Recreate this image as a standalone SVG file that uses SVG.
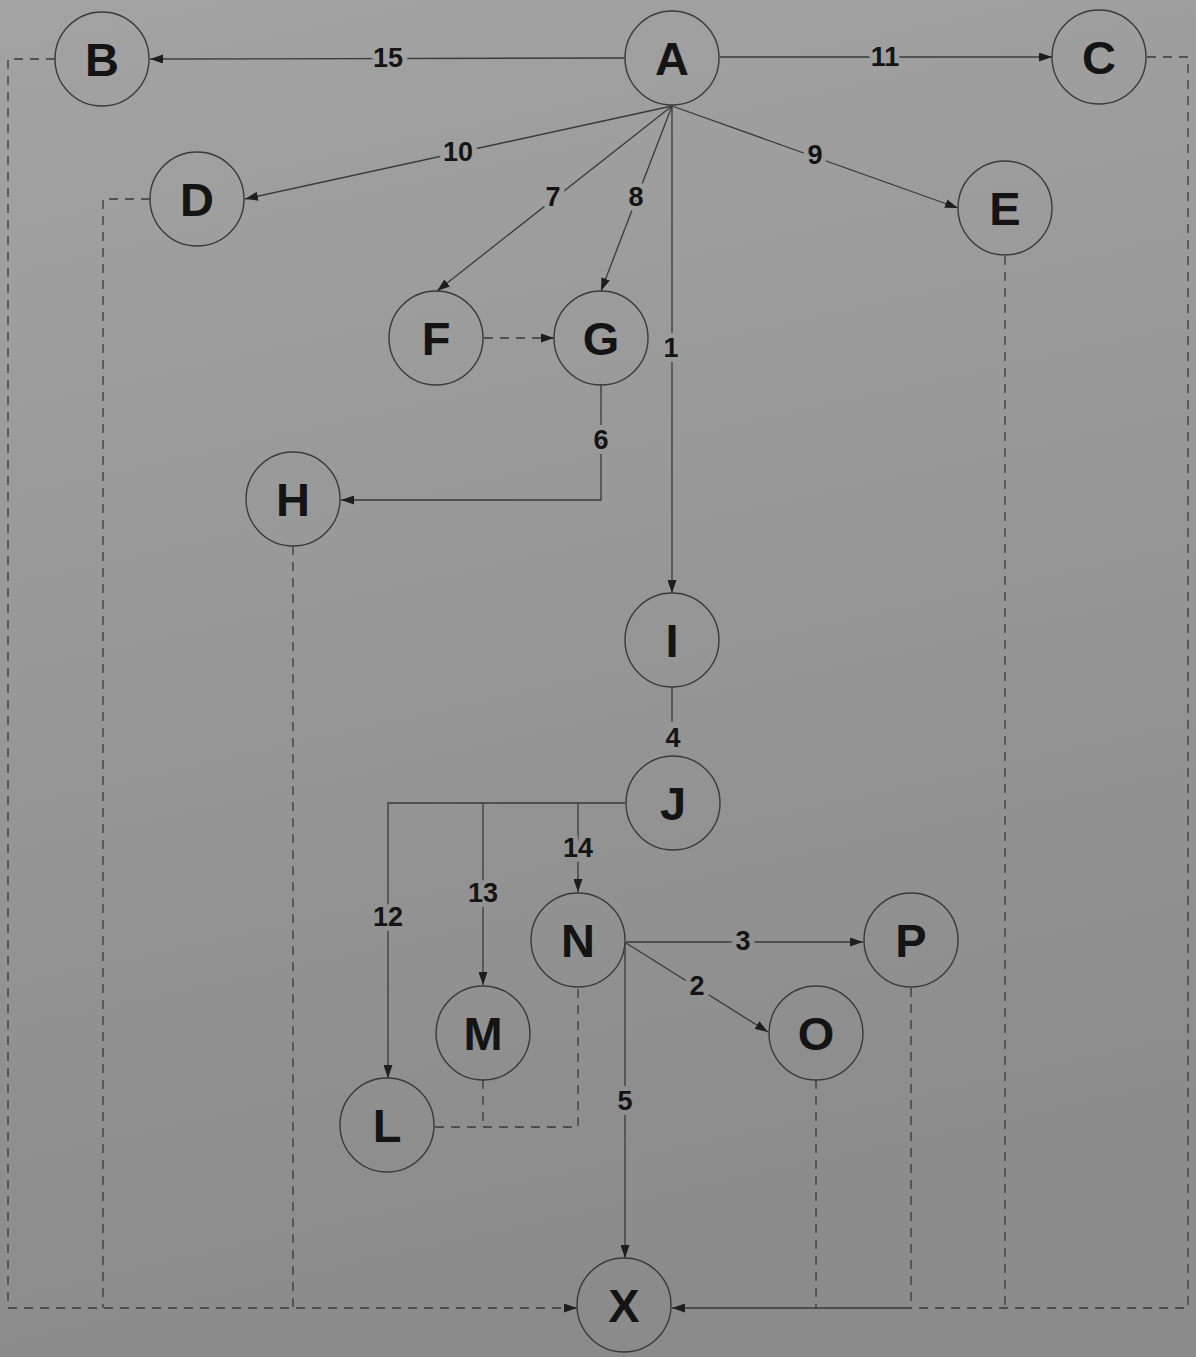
<svg xmlns="http://www.w3.org/2000/svg" width="1196" height="1357" viewBox="0 0 1196 1357">
<defs>
<linearGradient id="bg" gradientUnits="userSpaceOnUse" x1="0" y1="0" x2="300" y2="1357">
<stop offset="0" stop-color="#a3a3a3"/>
<stop offset="1" stop-color="#8b8b8b"/>
</linearGradient>
<marker id="ah" viewBox="0 0 13 9" refX="13" refY="4.5" markerWidth="13" markerHeight="9" markerUnits="userSpaceOnUse" orient="auto">
<path d="M0,0 L13,4.5 L0,9 z" fill="#1e1e1e"/>
</marker>
<style>
.n circle{fill:none;stroke:#3a3a3a;stroke-width:1.4}
.n text{font-family:"Liberation Sans",Arial,sans-serif;font-weight:bold;font-size:47px;fill:#141414;text-anchor:middle;dominant-baseline:central}
.e{fill:none;stroke:#3a3a3a;stroke-width:1.3}
.d{fill:none;stroke:#3a3a3a;stroke-width:1.3;stroke-dasharray:9 7}
.a{marker-end:url(#ah)}
.lb{font-family:"Liberation Sans",Arial,sans-serif;font-weight:bold;font-size:27px;fill:#141414;text-anchor:middle;dominant-baseline:central;stroke:url(#bg);stroke-width:10;paint-order:stroke;stroke-linejoin:round}
</style>
</defs>
<rect width="1196" height="1357" fill="url(#bg)"/>
<g id="connectors">
<line class="e a" x1="625" y1="58" x2="150" y2="59"/>
<line class="e a" x1="720" y1="57" x2="1052" y2="57"/>
<line class="e a" x1="672" y1="106" x2="245" y2="199"/>
<line class="e a" x1="672" y1="106" x2="437" y2="291"/>
<line class="e a" x1="672" y1="106" x2="601" y2="291"/>
<line class="e a" x1="672" y1="106" x2="672" y2="593"/>
<line class="e a" x1="672" y1="106" x2="958" y2="208"/>
<line class="d a" x1="484" y1="338" x2="554" y2="338"/>
<polyline class="e a" points="601,384 601,500 341,500"/>
<line class="e" x1="672" y1="687" x2="672" y2="722"/>
<polyline class="e" points="625,803 388,803 388,1000"/>
<line class="e a" x1="388" y1="1000" x2="388" y2="1078"/>
<line class="e a" x1="483" y1="803" x2="483" y2="985"/>
<line class="e a" x1="578" y1="803" x2="578" y2="892"/>
<line class="e a" x1="626" y1="942" x2="863" y2="942"/>
<line class="e a" x1="626" y1="943" x2="768" y2="1032"/>
<line class="e a" x1="625" y1="943" x2="625" y2="1258"/>
<polyline class="d" points="435,1127 578,1127 578,988"/>
<line class="d" x1="483" y1="1080" x2="483" y2="1127"/>
<polyline class="d" points="55,59 8,59 8,1308"/>
<polyline class="d" points="150,199 103,199 103,1308"/>
<line class="d" x1="293" y1="546" x2="293" y2="1308"/>
<line class="d a" x1="8" y1="1308" x2="577" y2="1308"/>
<polyline class="d" points="1147,57 1188,57 1188,1308 910,1308"/>
<line class="d" x1="1005" y1="256" x2="1005" y2="1308"/>
<line class="d" x1="911" y1="988" x2="911" y2="1308"/>
<line class="d" x1="816" y1="1080" x2="816" y2="1308"/>
<line class="e a" x1="910" y1="1308" x2="672" y2="1308"/>
<text class="lb" x="388" y="58">15</text>
<text class="lb" x="885" y="57">11</text>
<text class="lb" x="458" y="152">10</text>
<text class="lb" x="553" y="197">7</text>
<text class="lb" x="636" y="197">8</text>
<text class="lb" x="815" y="155">9</text>
<text class="lb" x="671" y="348">1</text>
<text class="lb" x="601" y="440">6</text>
<text class="lb" x="673" y="738">4</text>
<text class="lb" x="578" y="848">14</text>
<text class="lb" x="483" y="893">13</text>
<text class="lb" x="388" y="917">12</text>
<text class="lb" x="743" y="941">3</text>
<text class="lb" x="697" y="986">2</text>
<text class="lb" x="625" y="1101">5</text>
</g>
<g id="A" class="n"><circle cx="672" cy="58" r="47"/><text x="672" y="58">A</text></g>
<g id="B" class="n"><circle cx="102" cy="59" r="47"/><text x="102" y="59">B</text></g>
<g id="C" class="n"><circle cx="1099" cy="57" r="47"/><text x="1099" y="57">C</text></g>
<g id="D" class="n"><circle cx="197" cy="199" r="47"/><text x="197" y="199">D</text></g>
<g id="E" class="n"><circle cx="1005" cy="208" r="47"/><text x="1005" y="208">E</text></g>
<g id="F" class="n"><circle cx="436" cy="338" r="47"/><text x="436" y="338">F</text></g>
<g id="G" class="n"><circle cx="601" cy="338" r="47"/><text x="601" y="338">G</text></g>
<g id="H" class="n"><circle cx="293" cy="499" r="47"/><text x="293" y="499">H</text></g>
<g id="I" class="n"><circle cx="672" cy="640" r="47"/><text x="672" y="640">I</text></g>
<g id="J" class="n"><circle cx="673" cy="803" r="47"/><text x="673" y="803">J</text></g>
<g id="N" class="n"><circle cx="578" cy="940" r="47"/><text x="578" y="940">N</text></g>
<g id="P" class="n"><circle cx="911" cy="940" r="47"/><text x="911" y="940">P</text></g>
<g id="M" class="n"><circle cx="483" cy="1033" r="47"/><text x="483" y="1033">M</text></g>
<g id="O" class="n"><circle cx="816" cy="1033" r="47"/><text x="816" y="1033">O</text></g>
<g id="L" class="n"><circle cx="387" cy="1125" r="47"/><text x="387" y="1125">L</text></g>
<g id="X" class="n"><circle cx="624" cy="1305" r="47"/><text x="624" y="1305">X</text></g>
</svg>
